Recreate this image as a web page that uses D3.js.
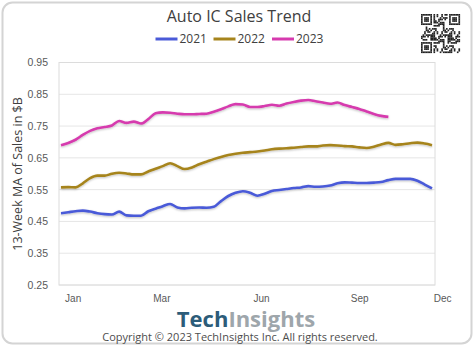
<!DOCTYPE html>
<html>
<head>
<meta charset="utf-8">
<script src="https://cdn.jsdelivr.net/npm/d3@7"></script>
<style>
  body { margin: 0; background: #fff; }
  svg { display: block; font-family: "Open Sans", "Noto Sans", sans-serif; }
</style>
</head>
<body>
<svg></svg>
<script>
const width = 474;
const height = 347;

// weekly 13-week MA of auto IC sales ($B)
const sales2021 = [0.476, 0.479, 0.482, 0.484, 0.481, 0.476, 0.473, 0.472, 0.481, 0.469,
  0.468, 0.468, 0.482, 0.490, 0.498, 0.505, 0.494, 0.491, 0.493, 0.494,
  0.493, 0.496, 0.514, 0.530, 0.540, 0.545, 0.540, 0.531, 0.537, 0.546,
  0.549, 0.552, 0.555, 0.557, 0.561, 0.559, 0.560, 0.563, 0.570, 0.573,
  0.572, 0.571, 0.571, 0.572, 0.574, 0.580, 0.584, 0.584, 0.584, 0.578,
  0.566, 0.554];
const sales2022 = [0.557, 0.558, 0.557, 0.570, 0.586, 0.594, 0.594, 0.600, 0.603, 0.601,
  0.598, 0.598, 0.607, 0.616, 0.624, 0.633, 0.624, 0.615, 0.620, 0.630,
  0.638, 0.646, 0.653, 0.659, 0.663, 0.666, 0.668, 0.670, 0.673, 0.677,
  0.679, 0.680, 0.682, 0.684, 0.686, 0.686, 0.689, 0.690, 0.689, 0.687,
  0.686, 0.683, 0.681, 0.685, 0.692, 0.697, 0.691, 0.693, 0.696, 0.698,
  0.695, 0.690];
const sales2023 = [0.690, 0.697, 0.707, 0.722, 0.735, 0.743, 0.747, 0.752, 0.766, 0.760,
  0.764, 0.758, 0.772, 0.790, 0.793, 0.792, 0.789, 0.787, 0.787, 0.788,
  0.789, 0.795, 0.803, 0.812, 0.819, 0.818, 0.810, 0.810, 0.813, 0.817,
  0.814, 0.821, 0.826, 0.830, 0.832, 0.828, 0.824, 0.820, 0.824, 0.816,
  0.810, 0.804, 0.796, 0.788, 0.782, 0.779];

const years = ["2021", "2022", "2023"];
const colors = ["#4a5ad8", "#a6841c", "#d63aae"];
const yTicks = [0.25, 0.35, 0.45, 0.55, 0.65, 0.75, 0.85, 0.95];
const monthLabels = ["Jan", "Mar", "Jun", "Sep", "Dec"];
const monthWeeks = [2.6, 14.8, 28.5, 42, 53.4];

const series = years.map((y, i) => ({
  name: y,
  color: colors[i],
  values: [sales2021, sales2022, sales2023][i]
}));

const svg = d3.select("svg")
  .attr("width", width)
  .attr("height", height);

const defs = svg.append("defs");
const shadow = defs.append("filter").attr("id", "soft")
  .attr("x", "-5%").attr("y", "-20%").attr("width", "110%").attr("height", "140%");
shadow.append("feDropShadow")
  .attr("dx", 0).attr("dy", 1).attr("stdDeviation", 0.8)
  .attr("flood-color", "#000").attr("flood-opacity", 0.25);

// card
svg.append("rect")
  .attr("x", 2.5).attr("y", 2.5)
  .attr("width", width - 5).attr("height", height - 6)
  .attr("rx", 10)
  .attr("fill", "#fff")
  .attr("stroke", "#d4d4d4")
  .attr("stroke-width", 2);

const plot = {left: 59, right: 435, top: 62.5, bottom: 285};

const xScale = d3.scaleLinear()
  .domain([1, 52])
  .range([61, 432]);

const yScale = d3.scaleLinear()
  .domain([0.25, 0.95])
  .range([plot.bottom, plot.top]);

// gridlines
svg.append("g")
  .selectAll("line")
  .data(yTicks)
  .join("line")
    .attr("x1", plot.left)
    .attr("x2", plot.right)
    .attr("y1", d => yScale(d))
    .attr("y2", d => yScale(d))
    .attr("stroke", "#e6e6e6")
    .attr("stroke-width", 1);

svg.append("rect")
  .attr("x", plot.left).attr("y", plot.top)
  .attr("width", plot.right - plot.left)
  .attr("height", plot.bottom - plot.top)
  .attr("fill", "none")
  .attr("stroke", "#dcdcdc")
  .attr("stroke-width", 1);

const yAxis = d3.axisLeft(yScale)
  .tickValues(yTicks)
  .tickFormat(d3.format(".2f"))
  .tickSize(0)
  .tickPadding(11);

svg.append("g")
  .attr("transform", `translate(${plot.left},0)`)
  .call(yAxis)
  .call(g => g.select(".domain").remove())
  .selectAll("text")
    .attr("fill", "#595959")
    .style("font-size", "10.5px");

const xAxis = d3.axisBottom(xScale)
  .tickValues(monthWeeks)
  .tickFormat((d, i) => monthLabels[i])
  .tickSize(0)
  .tickPadding(10);

svg.append("g")
  .attr("transform", `translate(0,${plot.bottom})`)
  .call(xAxis)
  .call(g => g.select(".domain").remove())
  .selectAll("text")
    .attr("fill", "#595959")
    .style("font-size", "10px");

// lines
const line = d3.line()
  .x((d, i) => xScale(i + 1))
  .y(d => yScale(d))
  .curve(d3.curveMonotoneX);

svg.append("g")
  .selectAll("path")
  .data(series)
  .join("path")
    .attr("d", d => line(d.values))
    .attr("fill", "none")
    .attr("stroke", d => d.color)
    .attr("stroke-width", 2.6)
    .attr("stroke-linejoin", "round")
    .attr("filter", "url(#soft)");

// title
svg.append("text")
  .attr("x", 239)
  .attr("y", 22)
  .attr("text-anchor", "middle")
  .attr("fill", "#404040")
  .style("font-size", "16px")
  .text("Auto IC Sales Trend");

// legend
const legendX = [155.5, 213.5, 272];
const legend = svg.append("g")
  .selectAll("g")
  .data(series)
  .join("g")
    .attr("transform", (d, i) => `translate(${legendX[i]},39)`);
legend.append("line")
  .attr("x1", 0).attr("x2", 22)
  .attr("stroke", d => d.color)
  .attr("stroke-width", 3);
legend.append("text")
  .attr("x", 24)
  .attr("dy", "0.35em")
  .attr("fill", "#404040")
  .style("font-size", "12px")
  .text(d => d.name);

// y axis title
svg.append("text")
  .attr("transform", "rotate(-90)")
  .attr("x", -174)
  .attr("y", 22)
  .attr("text-anchor", "middle")
  .attr("fill", "#404040")
  .style("font-size", "12.5px")
  .text("13-Week MA of Sales in $B");

// logo and copyright
const logo = svg.append("text")
  .attr("x", 246)
  .attr("y", 326.5)
  .attr("text-anchor", "middle")
  .style("font-size", "22px")
  .style("font-weight", "bold");
logo.append("tspan").attr("fill", "#2c5c79").text("Tech");
logo.append("tspan").attr("fill", "#9ea6ab").text("Insights");

svg.append("text")
  .attr("x", 240)
  .attr("y", 340.5)
  .attr("text-anchor", "middle")
  .attr("fill", "#4d4d4d")
  .style("font-size", "11px")
  .text("Copyright \u00a9 2023 TechInsights Inc.  All rights reserved.");

// QR-like badge (decorative)
const qrN = 25, qrSize = 39, qrX = 421, qrY = 14;
const cell = qrSize / qrN;
const qr = svg.append("g").attr("transform", `translate(${qrX},${qrY})`);
const finder = (r, c) => {
  for (const [fr, fc] of [[0, 0], [0, qrN - 7], [qrN - 7, 0]]) {
    const rr = r - fr, cc = c - fc;
    if (rr >= -1 && rr <= 7 && cc >= -1 && cc <= 7) {
      if (rr < 0 || rr > 6 || cc < 0 || cc > 6) return 0;
      if (rr === 0 || rr === 6 || cc === 0 || cc === 6) return 1;
      if (rr === 1 || rr === 5 || cc === 1 || cc === 5) return 0;
      return 1;
    }
  }
  return null;
};
const cells = [];
for (let r = 0; r < qrN; r++) {
  for (let c = 0; c < qrN; c++) {
    const f = finder(r, c);
    const h = ((r * 31 + 7) * (c * 17 + 3) + r * r * 5 + c * c * c) % 11;
    const on = f !== null ? f : (h < 5 ? 1 : 0);
    if (on) cells.push([r, c]);
  }
}
qr.selectAll("rect")
  .data(cells)
  .join("rect")
    .attr("x", d => d[1] * cell)
    .attr("y", d => d[0] * cell)
    .attr("width", cell + 0.1)
    .attr("height", cell + 0.1)
    .attr("fill", "#222");
</script>
</body>
</html>
